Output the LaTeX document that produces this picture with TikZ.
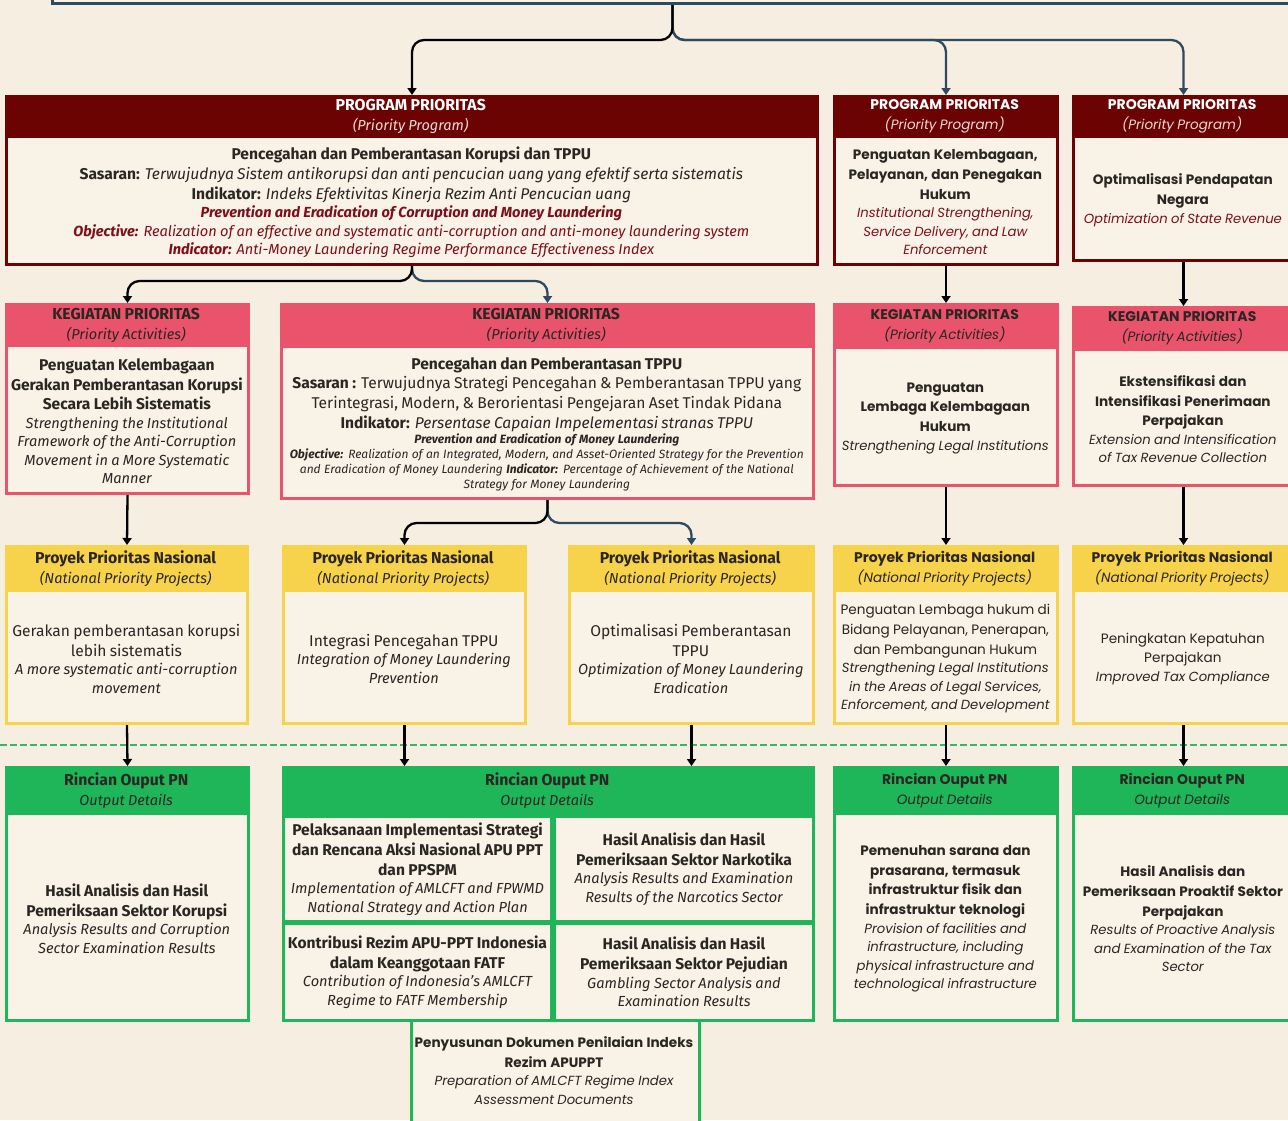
\documentclass[tikz,border=0pt]{standalone}
\usepackage{fontspec}
\setmainfont{Fira Sans}
\newfontfamily\wide{Poppins}
\usetikzlibrary{arrows.meta,calc}

\definecolor{paper}{HTML}{F5EEE1}
\definecolor{boxbg}{HTML}{F8F2E7}
\definecolor{progred}{HTML}{6C0303}
\definecolor{actpink}{HTML}{E9536B}
\definecolor{projyel}{HTML}{F7D24B}
\definecolor{outgreen}{HTML}{1FB65A}
\definecolor{sepgreen}{HTML}{34B866}
\definecolor{slate}{HTML}{2D4A5F}
\definecolor{ink}{HTML}{2A2622}
\definecolor{redtxt}{HTML}{7D0F1A}
\definecolor{pale}{HTML}{EED8D8}

% header lines
\newcommand\hdrL[2]{{\fontsize{15.8}{20}\selectfont\bfseries #1\par}{\fontsize{14.5}{20}\selectfont\itshape #2\par}}
\newcommand\hdrR[2]{{\wide\fontsize{14}{20}\selectfont\bfseries #1\par}{\wide\fontsize{13.5}{20}\selectfont\itshape #2\par}}
% body lines, narrow columns (L) and wide columns (R)
\newcommand\idL[1]{{\fontsize{15.6}{19.8}\selectfont\bfseries #1\par}}
\newcommand\rgL[1]{{\fontsize{15.6}{19.8}\selectfont #1\par}}
\newcommand\enL[1]{{\fontsize{14.6}{18.5}\selectfont\itshape #1\par}}
\newcommand\smL[1]{{\fontsize{12}{15}\selectfont\itshape #1\par}}
\newcommand\idR[1]{{\wide\fontsize{13.6}{19.7}\selectfont\bfseries #1\par}}
\newcommand\rgR[1]{{\wide\fontsize{13.6}{19.7}\selectfont #1\par}}
\newcommand\enR[1]{{\wide\fontsize{13.2}{18.5}\selectfont\itshape #1\par}}

\tikzset{
  box/.style={draw=#1, line width=3pt, fill=boxbg, anchor=north west, inner sep=0pt},
  head/.style={fill=#1, anchor=north west, inner sep=0pt, align=center, text=ink},
  body/.style={align=center, inner sep=0pt, text=ink, text width=#1},
  conn/.style={line width=2.3pt, rounded corners=12pt, -{Triangle[width=9pt,length=7pt]}},
}

\begin{document}
\begin{tikzpicture}[x=1pt,y=-1pt]

  % Paper
  \fill[paper] (0,0) rectangle (1288,1120);
  \useasboundingbox (0,0) rectangle (1288,1120);

  % Dashed line above the output details
  \draw[sepgreen, line width=1.3pt, dash pattern=on 7pt off 3pt] (0,745) -- (1288,745);

  % Top box, cut off by the page
  \node[box=slate, anchor=south west, minimum width=1240pt, minimum height=60pt] (top) at (51,5) {};

  % Program prioritas
  \node[box=progred, minimum width=811pt, minimum height=168pt] (prog1) at (5,95) {};
  \node[head=progred, text=white, minimum width=811pt, text width=811pt, minimum height=43pt] (prog1h) at (prog1.north west)
    {\hdrL{PROGRAM PRIORITAS}{\color{pale}(Priority Program)}};
  \node[body=811pt] (prog1t) at ($(prog1h.south)!.5!(prog1.south)$) {%
    \rgL{\textbf{Pencegahan dan Pemberantasan Korupsi dan TPPU}\\
      \textbf{Sasaran:} \textit{Terwujudnya Sistem antikorupsi dan anti pencucian uang yang efektif serta sistematis}\\
      \textbf{Indikator:} \textit{Indeks Efektivitas Kinerja Rezim Anti Pencucian uang}}
    \enL{\color{redtxt}\textbf{Prevention and Eradication of Corruption and Money Laundering}\\
      \textbf{Objective:} Realization of an effective and systematic anti-corruption and anti-money laundering system\\
      \textbf{Indicator:} Anti-Money Laundering Regime Performance Effectiveness Index}};

  \node[box=progred, minimum width=223pt, minimum height=168pt] (prog2) at (833,95) {};
  \node[head=progred, text=white, minimum width=223pt, text width=223pt, minimum height=43pt] (prog2h) at (prog2.north west)
    {\hdrR{PROGRAM PRIORITAS}{\color{pale}(Priority Program)}};
  \node[body=240pt] (prog2t) at ($(prog2h.south)!.5!(prog2.south)$) {%
    \idR{Penguatan Kelembagaan,\\Pelayanan, dan Penegakan\\Hukum}
    \enR{\color{redtxt}Institutional Strengthening,\\Service Delivery, and Law\\Enforcement}};

  \node[box=progred, minimum width=220pt, minimum height=164pt] (prog3) at (1072,95) {};
  \node[head=progred, text=white, minimum width=220pt, text width=220pt, minimum height=43pt] (prog3h) at (prog3.north west)
    {\hdrR{PROGRAM PRIORITAS}{\color{pale}(Priority Program)}};
  \node[body=240pt] (prog3t) at ($(prog3h.south)!.5!(prog3.south)$) {%
    \idR{Optimalisasi Pendapatan\\Negara}
    \enR{\color{redtxt}Optimization of State Revenue}};

  % Kegiatan prioritas
  \node[box=actpink, minimum width=242pt, minimum height=189pt] (act1) at (5,303) {};
  \node[head=actpink, minimum width=242pt, text width=242pt, minimum height=44pt] (act1h) at (act1.north west)
    {\hdrL{KEGIATAN PRIORITAS}{(Priority Activities)}};
  \node[body=260pt] (act1t) at ($(act1h.south)!.5!(act1.south)$) {%
    \idL{Penguatan Kelembagaan\\Gerakan Pemberantasan Korupsi\\Secara Lebih Sistematis}
    \enL{Strengthening the Institutional\\Framework of the Anti-Corruption\\Movement in a More Systematic\\Manner}};

  \node[box=actpink, minimum width=532pt, minimum height=194pt] (act2) at (280,303) {};
  \node[head=actpink, minimum width=532pt, text width=532pt, minimum height=45pt] (act2h) at (act2.north west)
    {\hdrL{KEGIATAN PRIORITAS}{(Priority Activities)}};
  \node[body=540pt] (act2t) at ($(act2h.south)!.5!(act2.south)$) {%
    \rgL{\textbf{Pencegahan dan Pemberantasan TPPU}\\
      \textbf{Sasaran :} Terwujudnya Strategi Pencegahan \& Pemberantasan TPPU yang\\
      Terintegrasi, Modern, \& Berorientasi Pengejaran Aset Tindak Pidana\\
      \textbf{Indikator:} \textit{Persentase Capaian Impelementasi stranas TPPU}}
    \smL{\textbf{Prevention and Eradication of Money Laundering}\\
      \textbf{Objective:} Realization of an Integrated, Modern, and Asset-Oriented Strategy for the Prevention\\
      and Eradication of Money Laundering \textbf{Indicator:} Percentage of Achievement of the National\\
      Strategy for Money Laundering}};

  \node[box=actpink, minimum width=223pt, minimum height=181pt] (act3) at (833,303) {};
  \node[head=actpink, minimum width=223pt, text width=223pt, minimum height=46pt] (act3h) at (act3.north west)
    {\hdrR{KEGIATAN PRIORITAS}{(Priority Activities)}};
  \node[body=240pt] (act3t) at ($(act3h.south)!.5!(act3.south)$) {%
    \idR{Penguatan\\Lembaga Kelembagaan\\Hukum}
    \enR{Strengthening Legal Institutions}};

  \node[box=actpink, minimum width=220pt, minimum height=178pt] (act4) at (1072,306) {};
  \node[head=actpink, minimum width=220pt, text width=220pt, minimum height=45pt] (act4h) at (act4.north west)
    {\hdrR{KEGIATAN PRIORITAS}{(Priority Activities)}};
  \node[body=240pt] (act4t) at ($(act4h.south)!.5!(act4.south)$) {%
    \idR{Ekstensifikasi dan\\Intensifikasi Penerimaan\\Perpajakan}
    \enR{Extension and Intensification\\of Tax Revenue Collection}};

  % Proyek prioritas nasional
  \node[box=projyel, minimum width=241pt, minimum height=177pt] (proj1) at (5,545) {};
  \node[head=projyel, minimum width=241pt, text width=241pt, minimum height=47pt] (proj1h) at (proj1.north west)
    {\hdrL{Proyek Prioritas Nasional}{(National Priority Projects)}};
  \node[body=260pt] (proj1t) at ($(proj1h.south)!.5!(proj1.south)$) {%
    \rgL{Gerakan pemberantasan korupsi\\lebih sistematis}
    \enL{A more systematic anti-corruption\\movement}};

  \node[box=projyel, minimum width=242pt, minimum height=177pt] (proj2) at (282,545) {};
  \node[head=projyel, minimum width=242pt, text width=242pt, minimum height=47pt] (proj2h) at (proj2.north west)
    {\hdrL{Proyek Prioritas Nasional}{(National Priority Projects)}};
  \node[body=260pt] (proj2t) at ($(proj2h.south)!.5!(proj2.south)$) {%
    \rgL{Integrasi Pencegahan TPPU}
    \enL{Integration of Money Laundering\\Prevention}};

  \node[box=projyel, minimum width=244pt, minimum height=177pt] (proj3) at (568,545) {};
  \node[head=projyel, minimum width=244pt, text width=244pt, minimum height=47pt] (proj3h) at (proj3.north west)
    {\hdrL{Proyek Prioritas Nasional}{(National Priority Projects)}};
  \node[body=260pt] (proj3t) at ($(proj3h.south)!.5!(proj3.south)$) {%
    \rgL{Optimalisasi Pemberantasan\\TPPU}
    \enL{Optimization of Money Laundering\\Eradication}};

  \node[box=projyel, minimum width=223pt, minimum height=177pt] (proj4) at (833,545) {};
  \node[head=projyel, minimum width=223pt, text width=223pt, minimum height=47pt] (proj4h) at (proj4.north west)
    {\hdrR{Proyek Prioritas Nasional}{(National Priority Projects)}};
  \node[body=240pt] (proj4t) at ($(proj4h.south)!.5!(proj4.south)$) {%
    \rgR{Penguatan Lembaga hukum di\\Bidang Pelayanan, Penerapan,\\dan Pembangunan Hukum}
    \enR{Strengthening Legal Institutions\\in the Areas of Legal Services,\\Enforcement, and Development}};

  \node[box=projyel, minimum width=220pt, minimum height=177pt] (proj5) at (1072,545) {};
  \node[head=projyel, minimum width=220pt, text width=220pt, minimum height=47pt] (proj5h) at (proj5.north west)
    {\hdrR{Proyek Prioritas Nasional}{(National Priority Projects)}};
  \node[body=240pt] (proj5t) at ($(proj5h.south)!.5!(proj5.south)$) {%
    \rgR{Peningkatan Kepatuhan\\Perpajakan}
    \enR{Improved Tax Compliance}};

  % Rincian output PN
  \node[box=outgreen, minimum width=242pt, minimum height=253pt] (out1) at (5,766) {};
  \node[head=outgreen, minimum width=242pt, text width=242pt, minimum height=49pt] (out1h) at (out1.north west)
    {\hdrL{Rincian Ouput PN}{Output Details}};
  \node[body=260pt] (out1t) at ($(out1h.south)!.5!(out1.south)$) {%
    \idL{Hasil Analisis dan Hasil\\Pemeriksaan Sektor Korupsi}
    \enL{Analysis Results and Corruption\\Sector Examination Results}};

  \node[box=outgreen, minimum width=530pt, minimum height=253pt] (out2) at (282,766) {};
  \node[head=outgreen, minimum width=530pt, text width=530pt, minimum height=49pt] (out2h) at (out2.north west)
    {\hdrL{Rincian Ouput PN}{Output Details}};
  \node[box=outgreen, minimum width=268pt, minimum height=105pt] (cell1) at (282,815) {};
  \node[box=outgreen, minimum width=259pt, minimum height=105pt] (cell2) at (553,815) {};
  \node[box=outgreen, minimum width=268pt, minimum height=97pt] (cell3) at (282,922) {};
  \node[box=outgreen, minimum width=259pt, minimum height=97pt] (cell4) at (553,922) {};
  \node[box=outgreen, minimum width=288pt, minimum height=115pt] (cell5) at (410,1019) {};
  \node[body=280pt] (cell1t) at (cell1) {%
    \idL{Pelaksanaan Implementasi Strategi\\dan Rencana Aksi Nasional APU PPT\\dan PPSPM}
    \enL{Implementation of AMLCFT and FPWMD\\National Strategy and Action Plan}};
  \node[body=270pt] (cell2t) at (cell2) {%
    \idL{Hasil Analisis dan Hasil\\Pemeriksaan Sektor Narkotika}
    \enL{Analysis Results and Examination\\Results of the Narcotics Sector}};
  \node[body=280pt] (cell3t) at (cell3) {%
    \idL{Kontribusi Rezim APU-PPT Indonesia\\dalam Keanggotaan FATF}
    \enL{Contribution of Indonesia's AMLCFT\\Regime to FATF Membership}};
  \node[body=270pt] (cell4t) at (cell4) {%
    \idL{Hasil Analisis dan Hasil\\Pemeriksaan Sektor Pejudian}
    \enL{Gambling Sector Analysis and\\Examination Results}};
  \node[body=300pt] (cell5t) at (554,1070.5) {%
    \idR{Penyusunan Dokumen Penilaian Indeks\\Rezim APUPPT}
    \enR{Preparation of AMLCFT Regime Index\\Assessment Documents}};

  \node[box=outgreen, minimum width=223pt, minimum height=253pt] (out3) at (833,766) {};
  \node[head=outgreen, minimum width=223pt, text width=223pt, minimum height=49pt] (out3h) at (out3.north west)
    {\hdrR{Rincian Ouput PN}{Output Details}};
  \node[body=240pt] (out3t) at ($(out3h.south)!.5!(out3.south)$) {%
    \idR{Pemenuhan sarana dan\\prasarana, termasuk\\infrastruktur fisik dan\\infrastruktur teknologi}
    \enR{Provision of facilities and\\infrastructure, including\\physical infrastructure and\\technological infrastructure}};

  \node[box=outgreen, minimum width=220pt, minimum height=253pt] (out4) at (1072,766) {};
  \node[head=outgreen, minimum width=220pt, text width=220pt, minimum height=49pt] (out4h) at (out4.north west)
    {\hdrR{Rincian Ouput PN}{Output Details}};
  \node[body=240pt] (out4t) at ($(out4h.south)!.5!(out4.south)$) {%
    \idR{Hasil Analisis dan\\Pemeriksaan Proaktif Sektor\\Perpajakan}
    \enR{Results of Proactive Analysis\\and Examination of the Tax\\Sector}};

  % Connectors
  \coordinate (fork1) at ($(top.south)+(0,35)$);
  \coordinate (fork2) at ($(prog1.south)+(0,15)$);
  \coordinate (fork3) at ($(act2.south)+(0,23)$);
  \draw[conn, slate] (top.south) -- (fork1) -| (prog3.north);
  \draw[conn, slate] (top.south) -- (fork1) -| (prog2.north);
  \draw[conn] (top.south) -- (fork1) -| (prog1.north);
  \draw[conn, slate] (prog1.south) -- (fork2) -| (act2.north);
  \draw[conn] (prog1.south) -- (fork2) -| (act1.north);
  \draw[conn] (prog2.south) -- (act3.north);
  \draw[conn] (prog3.south) -- (act4.north);
  \draw[conn] (act1.south) -- (proj1.north);
  \draw[conn, slate] (act2.south) -- (fork3) -| (proj3.north);
  \draw[conn] (act2.south) -- (fork3) -| (proj2.north);
  \draw[conn] (act3.south) -- (proj4.north);
  \draw[conn] (act4.south) -- (proj5.north);
  \draw[conn] (proj1.south) -- (out1.north);
  \draw[conn] (proj2.south) -- (proj2.south |- out2.north);
  \draw[conn] (proj3.south) -- (proj3.south |- out2.north);
  \draw[conn] (proj4.south) -- (out3.north);
  \draw[conn] (proj5.south) -- (out4.north);

\end{tikzpicture}
\end{document}
